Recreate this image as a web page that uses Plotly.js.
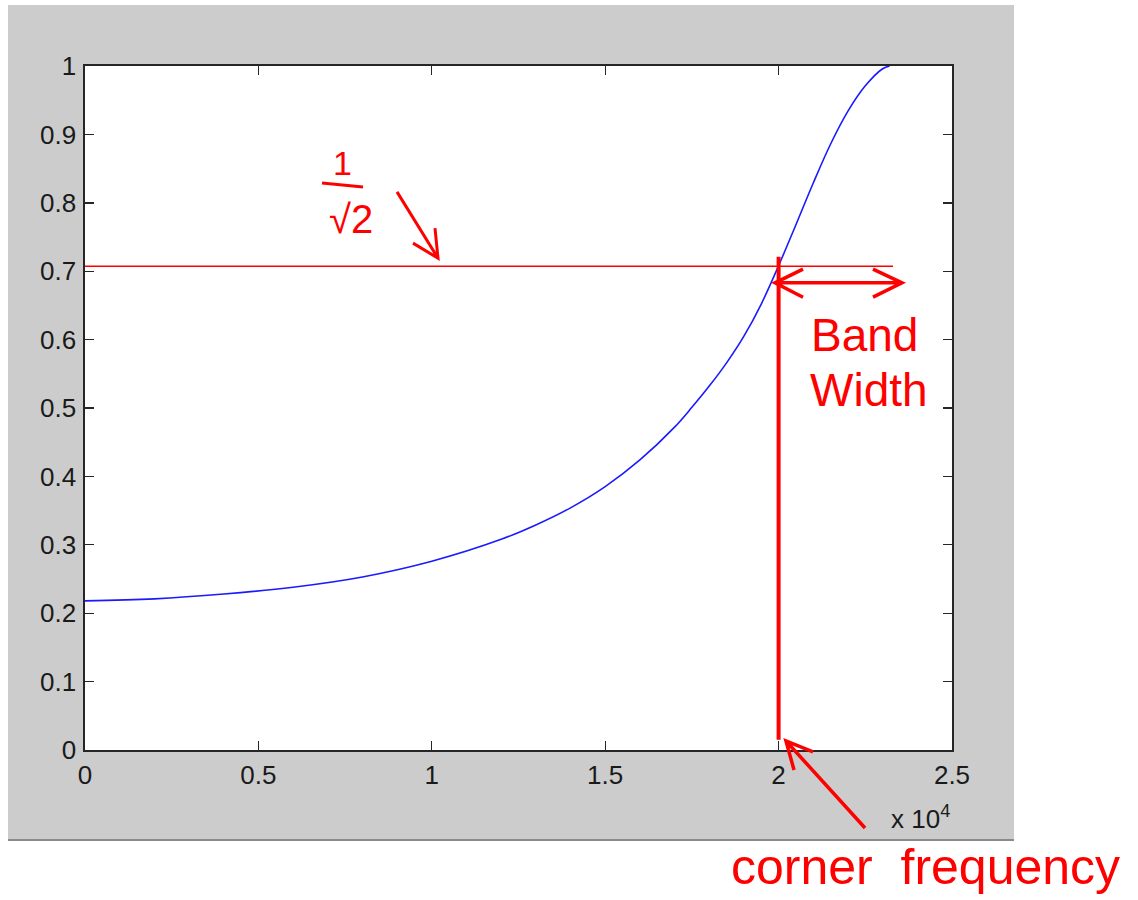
<!DOCTYPE html>
<html>
<head>
<meta charset="utf-8">
<script src="https://cdn.plot.ly/plotly-3.0.1.min.js"></script>
<style>
  html, body { margin: 0; padding: 0; background: #ffffff; }
  #chart { width: 1138px; height: 900px; }
</style>
</head>
<body>
<div id="chart"></div>
<script>
// Frequency response magnitude (normalised) versus frequency in Hz
const freq = [0, 2000, 4000, 6000, 8000, 10000, 12000, 13000, 14000, 15000, 16000,
              17000, 17500, 18000, 18500, 19000, 19500, 20000, 20500, 21000, 21500,
              22000, 22500, 23000, 23200];
const gain = [0.218, 0.221, 0.228, 0.238, 0.253, 0.276, 0.308, 0.329, 0.354, 0.385, 0.424,
              0.472, 0.501, 0.532, 0.566, 0.605, 0.652, 0.708, 0.768, 0.829, 0.886,
              0.934, 0.971, 0.996, 1.000];

// Half-power level and the corner frequency where the response crosses it
const halfPowerGain = Math.SQRT1_2;
const cornerFreq = 20000;

// Axis ticks
const xTickVals = [0, 5000, 10000, 15000, 20000, 25000];
const xTickText = ['0', '0.5', '1', '1.5', '2', '2.5'];
const yTickVals = [0, 0.1, 0.2, 0.3, 0.4, 0.5, 0.6, 0.7, 0.8, 0.9, 1];
const yTickText = ['0', '0.1', '0.2', '0.3', '0.4', '0.5', '0.6', '0.7', '0.8', '0.9', '1'];

const ink = '#ff0000';
const tickFont = { family: 'Liberation Sans, Arial, sans-serif', size: 26, color: '#1a1a1a' };
const handFont = { family: 'Liberation Sans, Arial, sans-serif', color: ink };

const trace = {
  x: freq,
  y: gain,
  type: 'scatter',
  mode: 'lines',
  line: { color: '#1a1aff', width: 1.6, shape: 'spline', smoothing: 1 },
  hoverinfo: 'skip'
};

const axisCommon = {
  showgrid: false,
  zeroline: false,
  showline: true,
  linecolor: '#262626',
  linewidth: 1.6,
  mirror: 'ticks',
  ticks: 'inside',
  ticklen: 9,
  tickwidth: 1.4,
  tickcolor: '#262626',
  tickfont: tickFont,
  fixedrange: true
};

const layout = {
  width: 1138,
  height: 900,
  margin: { l: 85, r: 186, t: 66, b: 150, pad: 0 },
  paper_bgcolor: '#ffffff',
  plot_bgcolor: '#ffffff',
  showlegend: false,
  xaxis: Object.assign({}, axisCommon, {
    range: [0, 25000],
    tickmode: 'array',
    tickvals: xTickVals,
    ticktext: xTickText,
    ticklabelstandoff: 1
  }),
  yaxis: Object.assign({}, axisCommon, {
    range: [0, 1],
    tickmode: 'array',
    tickvals: yTickVals,
    ticktext: yTickText,
    ticklabelstandoff: 2
  }),
  shapes: [
    // grey figure panel
    { type: 'rect', xref: 'paper', yref: 'paper', x0: -0.0888, x1: 1.0715, y0: -0.1330, y1: 1.0892,
      fillcolor: '#cccccc', line: { width: 0 }, layer: 'below' },
    { type: 'line', xref: 'paper', yref: 'paper', x0: -0.0888, x1: 1.0715, y0: -0.1316, y1: -0.1316,
      line: { color: '#8a8a8a', width: 2 }, layer: 'below' },
    // white axes area
    { type: 'rect', xref: 'paper', yref: 'paper', x0: 0, x1: 1, y0: 0, y1: 1,
      fillcolor: '#ffffff', line: { width: 0 }, layer: 'below' },

    // 1/sqrt(2) level
    { type: 'line', xref: 'x', yref: 'y', x0: 0, x1: 23300, y0: halfPowerGain, y1: halfPowerGain,
      line: { color: ink, width: 1.5 } },
    // corner frequency marker
    { type: 'line', xref: 'x', yref: 'y', x0: cornerFreq, x1: cornerFreq, y0: 0.015, y1: 0.721,
      line: { color: ink, width: 4 } },
    // bandwidth double arrow
    { type: 'path', xref: 'x', yref: 'y',
      path: 'M 19896,0.683 L 23558,0.683 M 20704,0.703 L 19896,0.683 L 20704,0.662 ' +
            'M 22722,0.703 L 23558,0.683 L 22722,0.662',
      line: { color: ink, width: 3.5 } },
    // fraction bar of 1/sqrt(2)
    { type: 'line', xref: 'x', yref: 'y', x0: 6834, x1: 8016, y0: 0.829, y1: 0.823,
      line: { color: ink, width: 3 } },
    // arrow pointing at the 1/sqrt(2) line
    { type: 'path', xref: 'x', yref: 'y',
      path: 'M 8997,0.816 L 10179,0.719 M 10092,0.763 L 10179,0.719 L 9458,0.741',
      line: { color: ink, width: 3 } },
    // arrow pointing at the corner frequency
    { type: 'path', xref: 'paper', yref: 'paper',
      path: 'M 0.8997,-0.114 L 0.8085,0.0132 M 0.8397,-0.0029 L 0.8085,0.0132 L 0.8178,-0.0292',
      line: { color: ink, width: 3.5 } }
  ],
  annotations: [
    { xref: 'paper', yref: 'paper', x: 1.0, y: -0.0994, xanchor: 'right', yanchor: 'middle',
      text: 'x 10<sup>4</sup>', showarrow: false, font: tickFont },
    { xref: 'x', yref: 'y', x: 7411, y: 0.858, xanchor: 'center', yanchor: 'middle',
      text: '1', showarrow: false, font: Object.assign({}, handFont, { size: 34 }) },
    { xref: 'x', yref: 'y', x: 7670, y: 0.776, xanchor: 'center', yanchor: 'middle',
      text: '√2', showarrow: false, font: Object.assign({}, handFont, { size: 40 }) },
    { xref: 'x', yref: 'y', x: 22491, y: 0.607, xanchor: 'center', yanchor: 'middle',
      text: 'Band', showarrow: false, font: Object.assign({}, handFont, { size: 46 }) },
    { xref: 'x', yref: 'y', x: 22606, y: 0.526, xanchor: 'center', yanchor: 'middle',
      text: 'Width', showarrow: false, font: Object.assign({}, handFont, { size: 46 }) },
    { xref: 'paper', yref: 'paper', x: 0.969, y: -0.171, xanchor: 'center', yanchor: 'middle',
      text: 'corner  frequency', showarrow: false, font: Object.assign({}, handFont, { size: 50 }) }
  ]
};

Plotly.newPlot('chart', [trace], layout, { staticPlot: true, displayModeBar: false });
</script>
</body>
</html>
